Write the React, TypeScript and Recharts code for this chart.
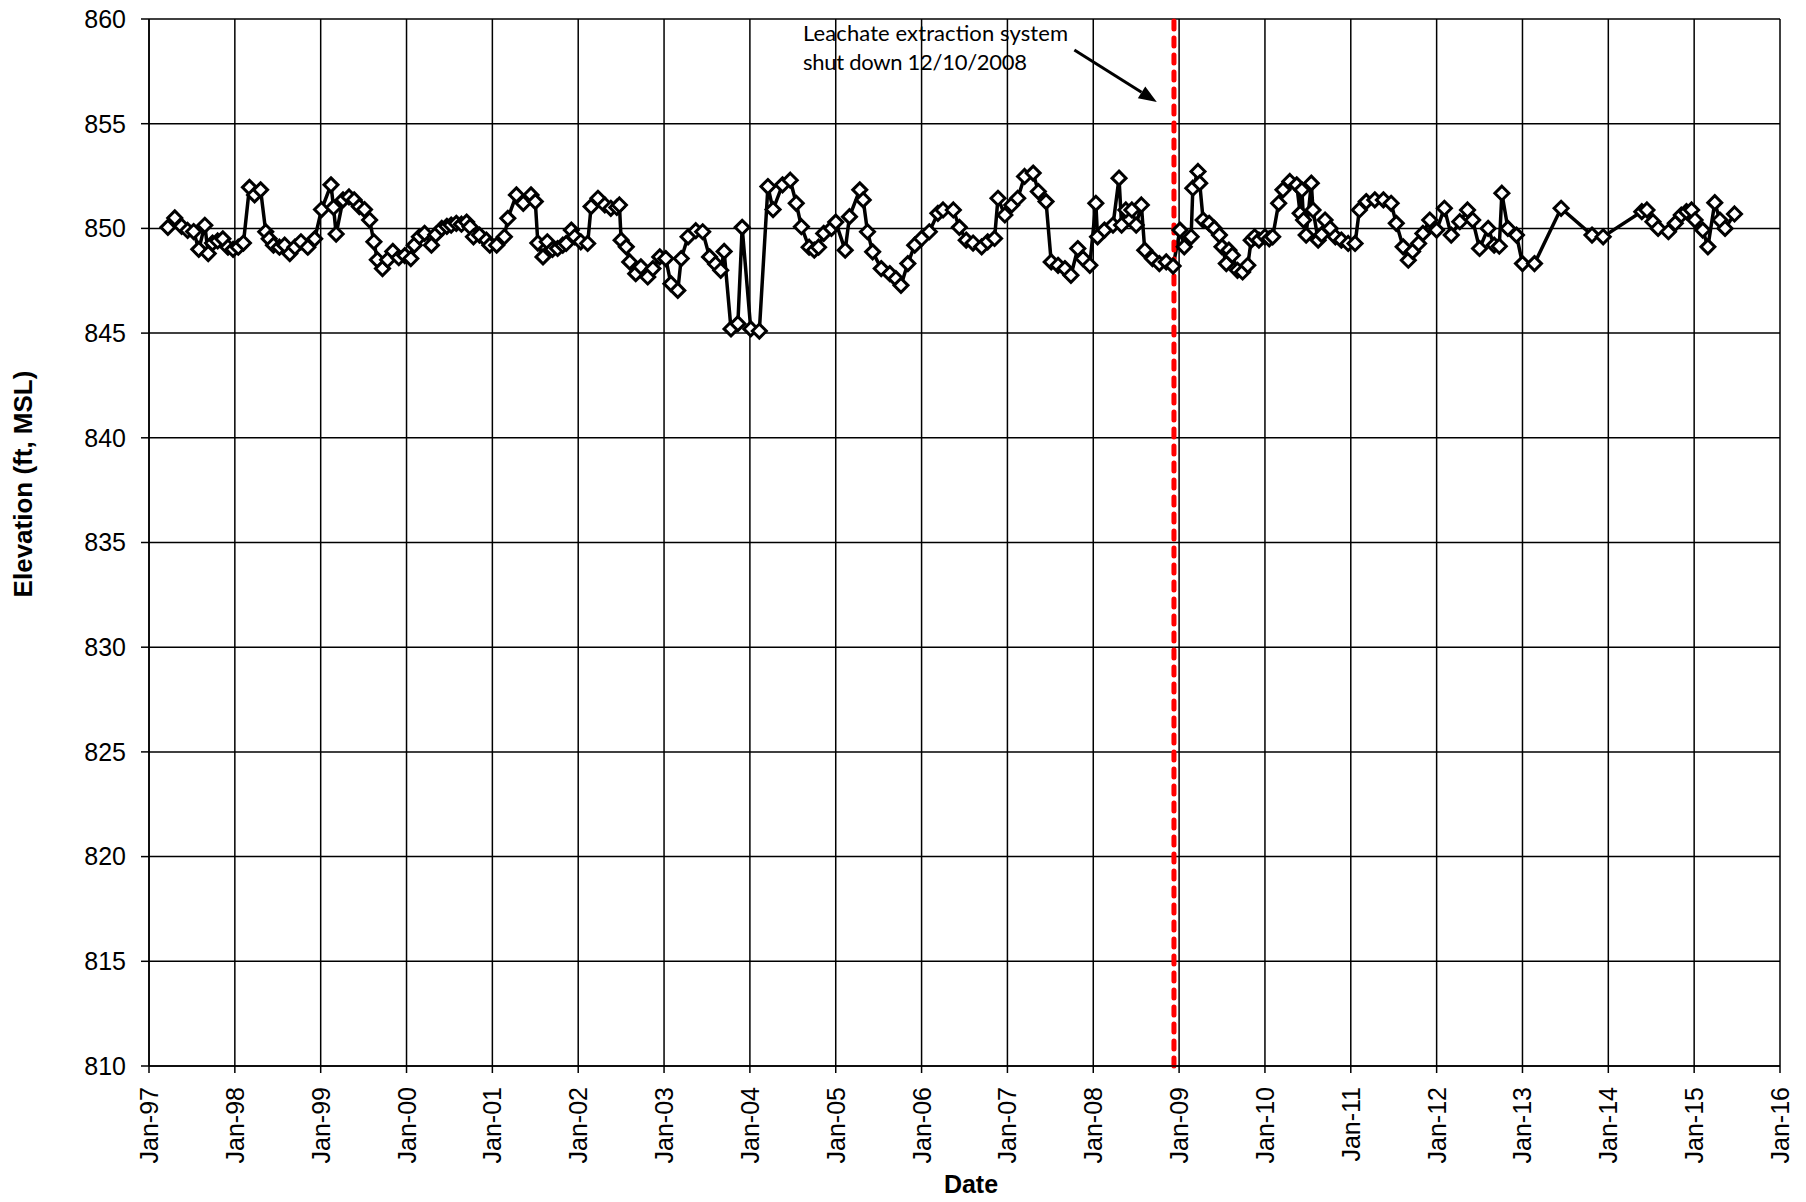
import React from 'react'
import {
  LineChart,
  Line,
  XAxis,
  YAxis,
  CartesianGrid,
  ReferenceLine,
} from 'recharts'

// sample dates as decimal years
const sampleDates = [
  1997.22, 1997.3, 1997.38, 1997.45, 1997.52, 1997.58, 1997.65, 1997.69, 1997.74, 1997.8,
  1997.86, 1997.92, 1997.98, 1998.04, 1998.1, 1998.17, 1998.23, 1998.3, 1998.36, 1998.4,
  1998.45, 1998.52, 1998.58, 1998.64, 1998.7, 1998.77, 1998.85, 1998.93, 1999.01, 1999.12,
  1999.15, 1999.18, 1999.26, 1999.33, 1999.39, 1999.45, 1999.51, 1999.57, 1999.62, 1999.66,
  1999.72, 1999.78, 1999.84, 1999.91, 1999.98, 2000.05, 2000.09, 2000.15, 2000.21, 2000.29,
  2000.34, 2000.41, 2000.47, 2000.52, 2000.58, 2000.64, 2000.7, 2000.74, 2000.78, 2000.85,
  2000.93, 2000.97, 2001.05, 2001.14, 2001.18, 2001.28, 2001.36, 2001.45, 2001.5, 2001.53,
  2001.59, 2001.64, 2001.7, 2001.76, 2001.82, 2001.86, 2001.92, 2001.96, 2002.03, 2002.11,
  2002.15, 2002.23, 2002.31, 2002.38, 2002.45, 2002.48, 2002.5, 2002.56, 2002.6, 2002.67,
  2002.73, 2002.81, 2002.87, 2002.95, 2003.02, 2003.08, 2003.16, 2003.2, 2003.28, 2003.37,
  2003.45, 2003.53, 2003.6, 2003.66, 2003.7, 2003.78, 2003.86, 2003.91, 2004.01, 2004.11,
  2004.21, 2004.27, 2004.38, 2004.47, 2004.54, 2004.6, 2004.69, 2004.75, 2004.8, 2004.86,
  2004.95, 2005.0, 2005.11, 2005.16, 2005.28, 2005.32, 2005.37, 2005.43, 2005.53, 2005.63,
  2005.7, 2005.76, 2005.84, 2005.92, 2006.0, 2006.09, 2006.19, 2006.25, 2006.37, 2006.44,
  2006.52, 2006.6, 2006.7, 2006.77, 2006.85, 2006.89, 2006.97, 2007.05, 2007.12, 2007.2,
  2007.3, 2007.36, 2007.45, 2007.51, 2007.59, 2007.67, 2007.74, 2007.82, 2007.88, 2007.96,
  2008.03, 2008.05, 2008.13, 2008.23, 2008.3, 2008.33, 2008.38, 2008.45, 2008.5, 2008.56,
  2008.6, 2008.69, 2008.77, 2008.85, 2008.93, 2009.01, 2009.06, 2009.14, 2009.16, 2009.22,
  2009.24, 2009.28, 2009.35, 2009.41, 2009.47, 2009.5, 2009.55, 2009.58, 2009.62, 2009.68,
  2009.74, 2009.8, 2009.84, 2009.88, 2009.93, 2010.0, 2010.05, 2010.09, 2010.16, 2010.21,
  2010.29, 2010.37, 2010.41, 2010.43, 2010.45, 2010.48, 2010.54, 2010.56, 2010.62, 2010.66,
  2010.7, 2010.76, 2010.82, 2010.89, 2010.97, 2011.05, 2011.1, 2011.18, 2011.28, 2011.38,
  2011.47, 2011.53, 2011.61, 2011.67, 2011.72, 2011.79, 2011.84, 2011.92, 2012.0, 2012.09,
  2012.17, 2012.27, 2012.36, 2012.42, 2012.5, 2012.6, 2012.67, 2012.73, 2012.76, 2012.83,
  2012.93, 2013.0, 2013.14, 2013.45, 2013.81, 2013.94, 2014.39, 2014.45, 2014.52, 2014.58,
  2014.7, 2014.78, 2014.85, 2014.91, 2014.97, 2015.01, 2015.1, 2015.16, 2015.24, 2015.3,
  2015.36, 2015.47,
]

// water level elevation, ft MSL
const elevation = [
  850.05, 850.5, 850.1, 849.9, 849.85, 849.0, 850.15, 848.8, 849.3, 849.4,
  849.5, 849.1, 849.0, 849.1, 849.3, 851.96, 851.6, 851.84, 849.84, 849.5,
  849.2, 849.1, 849.2, 848.8, 849.1, 849.36, 849.1, 849.5, 850.9, 852.08,
  851.0, 849.73, 851.36, 851.5, 851.36, 851.04, 850.9, 850.4, 849.36, 848.5,
  848.08, 848.5, 848.9, 848.6, 848.7, 848.56, 849.2, 849.6, 849.76, 849.2,
  849.7, 850.0, 850.1, 850.16, 850.24, 850.2, 850.3, 850.08, 849.6, 849.68,
  849.44, 849.2, 849.2, 849.6, 850.48, 851.6, 851.2, 851.6, 851.28, 849.3,
  848.64, 849.36, 849.0, 849.04, 849.2, 849.28, 849.92, 849.6, 849.36, 849.28,
  851.04, 851.44, 851.12, 850.96, 851.0, 851.12, 849.44, 849.12, 848.4, 847.84,
  848.16, 847.68, 848.08, 848.64, 848.56, 847.36, 847.04, 848.56, 849.6, 849.89,
  849.84, 848.64, 848.3, 848.0, 848.9, 845.2, 845.45, 850.05, 845.2, 845.1,
  852.0, 850.9, 852.08, 852.3, 851.2, 850.08, 849.1, 848.96, 849.1, 849.76,
  850.0, 850.3, 848.96, 850.56, 851.84, 851.36, 849.84, 848.88, 848.08, 847.84,
  847.6, 847.28, 848.32, 849.2, 849.52, 849.84, 850.72, 850.88, 850.88, 850.05,
  849.44, 849.3, 849.12, 849.36, 849.52, 851.44, 850.64, 851.12, 851.44, 852.48,
  852.64, 851.76, 851.28, 848.4, 848.24, 848.08, 847.76, 849.04, 848.56, 848.24,
  851.2, 849.6, 849.92, 850.16, 852.4, 850.16, 850.88, 850.88, 850.16, 851.12,
  848.96, 848.56, 848.32, 848.4, 848.2, 849.92, 849.12, 849.6, 851.92, 852.72,
  852.16, 850.4, 850.24, 850.0, 849.68, 849.12, 848.32, 848.96, 848.72, 848.0,
  847.92, 848.24, 849.44, 849.6, 849.44, 849.6, 849.5, 849.6, 851.2, 851.84,
  852.24, 852.08, 850.72, 851.84, 850.4, 849.68, 852.16, 850.88, 849.44, 849.7,
  850.4, 850.0, 849.6, 849.44, 849.28, 849.28, 850.88, 851.28, 851.36, 851.36,
  851.2, 850.24, 849.12, 848.48, 848.9, 849.28, 849.76, 850.4, 849.92, 850.96,
  849.68, 850.32, 850.88, 850.4, 849.04, 850.0, 849.2, 849.15, 851.68, 850.0,
  849.68, 848.32, 848.32, 850.96, 849.68, 849.6, 850.8, 850.88, 850.32, 850.0,
  849.84, 850.24, 850.64, 850.8, 850.88, 850.4, 849.92, 849.12, 851.23, 850.4,
  850.0, 850.69,
]

const yearTicks = [
  1997, 1998, 1999, 2000, 2001, 2002, 2003, 2004, 2005, 2006,
  2007, 2008, 2009, 2010, 2011, 2012, 2013, 2014, 2015, 2016,
]
const elevationTicks = [810, 815, 820, 825, 830, 835, 840, 845, 850, 855, 860]

const shutdownDate = 2008.94 // 12/10/2008
const arrowFrom = { x: 2007.78, y: 858.52 }
const arrowTo = { x: 2008.74, y: 856.04 }

const data = sampleDates.map((t, i) => ({ t, elev: elevation[i] }))

const axisFont = '"Liberation Sans", Arial, sans-serif'

function Diamond(props: any) {
  const { cx, cy, index } = props
  if (cx == null || cy == null) return null
  const r = 7
  return (
    <path
      key={`d-${index}`}
      d={`M${cx},${cy - r} L${cx + r},${cy} L${cx},${cy + r} L${cx - r},${cy} Z`}
      fill="#fff"
      stroke="#000"
      strokeWidth={3}
    />
  )
}

function DateTick(props: any) {
  const { x, y, payload } = props
  const label = `Jan-${String(payload.value).slice(2)}`
  return (
    <g transform={`translate(${x},${y})`}>
      <text
        transform="rotate(-90)"
        textAnchor="end"
        dy="0.36em"
        fontSize={25}
        fontFamily={axisFont}
        fill="#000"
      >
        {label}
      </text>
    </g>
  )
}

function Arrow(props: any) {
  const { x1, y1, x2, y2 } = props
  if (x1 == null) return null
  const dx = x2 - x1
  const dy = y2 - y1
  const len = Math.sqrt(dx * dx + dy * dy)
  const ux = dx / len
  const uy = dy / len
  const head = 18
  const half = 7
  const bx = x2 - ux * head
  const by = y2 - uy * head
  return (
    <g>
      <line x1={x1} y1={y1} x2={bx} y2={by} stroke="#000" strokeWidth={3} />
      <polygon
        points={`${x2},${y2} ${bx - uy * half},${by + ux * half} ${bx + uy * half},${by - ux * half}`}
        fill="#000"
      />
    </g>
  )
}

export default function App() {
  return (
    <div style={{ position: 'absolute', left: 0, top: 0, width: 1806, height: 1202, background: '#fff' }}>
      <LineChart
        width={1806}
        height={1202}
        data={data}
        margin={{ top: 19, right: 26, left: 0, bottom: 0 }}
      >
        <CartesianGrid stroke="#000" strokeWidth={1.5} />
        <XAxis
          type="number"
          dataKey="t"
          domain={[1997, 2016]}
          ticks={yearTicks}
          interval={0}
          height={136}
          tickSize={7}
          tickMargin={14}
          tick={<DateTick />}
          stroke="#000"
          strokeWidth={1.5}
        />
        <YAxis
          type="number"
          domain={[810, 860]}
          ticks={elevationTicks}
          interval={0}
          width={149}
          tickSize={8}
          tickMargin={15}
          tick={{ fontSize: 25, fontFamily: axisFont, fill: '#000' }}
          stroke="#000"
          strokeWidth={1.5}
        />
        <Line
          type="linear"
          dataKey="elev"
          stroke="#000"
          strokeWidth={3.5}
          dot={<Diamond />}
          isAnimationActive={false}
        />
        <ReferenceLine
          x={shutdownDate}
          stroke="#ff0000"
          strokeWidth={5}
          strokeDasharray="8 9"
          strokeLinecap="round"
        />
        <ReferenceLine segment={[arrowFrom, arrowTo]} shape={<Arrow />} />
      </LineChart>
      <svg
        width={1806}
        height={1202}
        style={{ position: 'absolute', left: 0, top: 0, pointerEvents: 'none' }}
      >
        <text x={803} y={41} fontSize={22} fontFamily="Lato, sans-serif" fill="#000" textLength={265}>
          Leachate extraction system
        </text>
        <text x={803} y={70} fontSize={22} fontFamily="Lato, sans-serif" fill="#000" textLength={224}>
          shut down 12/10/2008
        </text>
        <text
          transform="translate(32,484) rotate(-90)"
          textAnchor="middle"
          fontSize={26}
          fontWeight="bold"
          fontFamily={axisFont}
          fill="#000"
        >
          Elevation (ft, MSL)
        </text>
        <text
          x={971}
          y={1193}
          textAnchor="middle"
          fontSize={25}
          fontWeight="bold"
          fontFamily={axisFont}
          fill="#000"
        >
          Date
        </text>
      </svg>
    </div>
  )
}
